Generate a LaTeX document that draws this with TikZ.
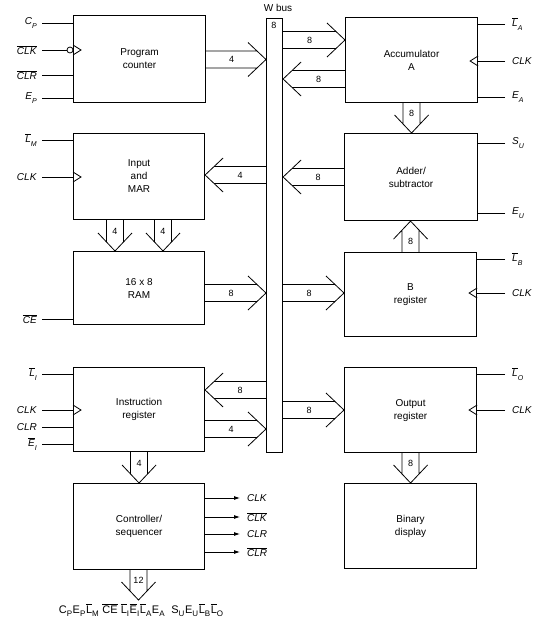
\documentclass[tikz,border=0pt]{standalone}
\usepackage{fontspec}
\setmainfont{Liberation Sans}
\usetikzlibrary{calc,arrows.meta}
\newcommand\obar[1]{\ensuremath{\overline{\mbox{#1}}}}
\newcommand\sg[2]{\textit{#1}\raisebox{-0.7ex}{\fontsize{7}{7}\selectfont\textit{#2}}}
\newcommand\bsg[2]{\obar{\textit{#1}}\raisebox{-0.7ex}{\fontsize{7}{7}\selectfont\textit{#2}}}
\newcommand\usg[2]{#1\raisebox{-0.5ex}{\fontsize{8}{8}\selectfont #2}\hspace{0.6pt}}
\newcommand\ubsg[2]{\obar{#1}\raisebox{-0.5ex}{\fontsize{8}{8}\selectfont #2}\hspace{0.6pt}}
\newcommand\harrR[3]{\draw[busline] let \p1=#1, \p2=#2 in
  (\x1,\y2+8.5pt) -- (\x2-9pt,\y2+8.5pt)
  (\x1,\y2-8.5pt) -- (\x2-9pt,\y2-8.5pt)
  (\x2-18pt,\y2+17pt) -- (\x2,\y2) -- (\x2-18pt,\y2-17pt)
  ({0.5*\x1+0.5*(\x2-9pt)},\y2) node[lbl]{#3};}
\newcommand\harrL[3]{\draw[busline] let \p1=#1, \p2=#2 in
  (\x1,\y2+8.5pt) -- (\x2+9pt,\y2+8.5pt)
  (\x1,\y2-8.5pt) -- (\x2+9pt,\y2-8.5pt)
  (\x2+18pt,\y2+17pt) -- (\x2,\y2) -- (\x2+18pt,\y2-17pt)
  ({0.5*\x1+0.5*(\x2+9pt)},\y2) node[lbl]{#3};}
\newcommand\varrD[3]{\draw[busline] let \p1=#1, \p2=#2 in
  (\x2-8.5pt,\y1) -- (\x2-8.5pt,\y2+9pt)
  (\x2+8.5pt,\y1) -- (\x2+8.5pt,\y2+9pt)
  (\x2-17pt,\y2+18pt) -- (\x2,\y2) -- (\x2+17pt,\y2+18pt)
  (\x2,{0.5*\y1+0.5*(\y2+9pt)}) node[lbl]{#3};}
\newcommand\varrU[3]{\draw[busline] let \p1=#1, \p2=#2 in
  (\x2-8.5pt,\y1) -- (\x2-8.5pt,\y2-9pt)
  (\x2+8.5pt,\y1) -- (\x2+8.5pt,\y2-9pt)
  (\x2-17pt,\y2-18pt) -- (\x2,\y2) -- (\x2+17pt,\y2-18pt)
  (\x2,{0.5*\y1+0.5*(\y2-9pt)}) node[lbl]{#3};}
\newcommand\lsig[4]{\node[lsig] (#1) at (42,#2) {#3}; \draw[sig] (#1.east) -- (#4.west |- #1.east);}
\newcommand\rsig[4]{\node[rsig] (#1) at (505,#2) {#3}; \draw[sig] (#1.west) -- (#4.east |- #1.west);}
\newcommand\lclk[2]{\draw[sig] (#1.west |- 0,#2) ++(0,-5) -- ++(8,5) -- ++(-8,5);}
\newcommand\rclk[2]{\draw[sig] (#1.east |- 0,#2) ++(0,-5) -- ++(-8,5) -- ++(8,5);}
\begin{document}
\begin{tikzpicture}[x=1pt,y=-1pt,
  box/.style={draw,line width=1.1pt,anchor=north west,align=center,
    font=\fontsize{10}{13}\selectfont,inner sep=0pt},
  busline/.style={line width=0.8pt},
  lbl/.style={font=\fontsize{9}{10}\selectfont,inner sep=1pt},
  sig/.style={line width=0.8pt},
  lsig/.style={font=\fontsize{10}{12}\selectfont,anchor=east,inner ysep=0pt,inner xsep=5pt},
  rsig/.style={font=\fontsize{10}{12}\selectfont,anchor=west,inner ysep=0pt,inner xsep=7pt},
  osig/.style={font=\fontsize{10}{12}\selectfont,anchor=west,inner ysep=0pt,inner xsep=7pt},
]
\useasboundingbox (0,0) rectangle (541,624);
\fill[white] (0,0) rectangle (541,624);

% boxes
\node[box,minimum width=132pt,minimum height=87pt] (pc) at (73,15) {Program\\counter};
\node[box,minimum width=131pt,minimum height=86pt] (mar) at (73,133) {Input\\and\\MAR};
\node[box,minimum width=131pt,minimum height=73pt] (ram) at (73,251) {16 x 8\\RAM};
\node[box,minimum width=131pt,minimum height=84pt] (ir) at (73,367) {Instruction\\register};
\node[box,minimum width=131pt,minimum height=86pt] (ctl) at (73,483) {Controller/\\sequencer};
\node[box,minimum width=132pt,minimum height=85pt] (acc) at (345,17) {Accumulator\\A};
\node[box,minimum width=133pt,minimum height=87pt] (add) at (344,133) {Adder/\\subtractor};
\node[box,minimum width=132pt,minimum height=84pt] (breg) at (344,252) {B\\register};
\node[box,minimum width=132pt,minimum height=85pt] (outr) at (344,367) {Output\\register};
\node[box,minimum width=132pt,minimum height=85pt] (disp) at (344,483) {Binary\\display};

% W bus
\node[draw,line width=1.1pt,anchor=north west,minimum width=16pt,minimum height=434pt,inner sep=0pt] (bus) at (266,18) {};
\node[font=\fontsize{10}{12}\selectfont,inner sep=0pt] (wbus) at (278,8) {W bus};
\node[lbl] (bus8) at (274,25) {8};

% bus arrows
\harrR{(pc.east)}{(bus.west |- 0,59.5)}{4}
\harrR{(bus.east)}{(acc.west |- 0,40)}{8}
\harrL{(acc.west)}{(bus.east |- 0,79)}{8}
\harrL{(add.west)}{(bus.east |- 0,177)}{8}
\harrL{(bus.west)}{(mar.east |- 0,175)}{4}
\harrR{(ram.east)}{(bus.west |- 0,293)}{8}
\harrR{(bus.east)}{(breg.west |- 0,293)}{8}
\harrL{(bus.west)}{(ir.east |- 0,390)}{8}
\harrR{(ir.east)}{(bus.west |- 0,429)}{4}
\harrR{(bus.east)}{(outr.west |- 0,410)}{8}

% vertical arrows
\varrD{(acc.south)}{(add.north -| acc.south)}{8}
\varrU{(breg.north)}{(add.south -| breg.north)}{8}
\varrD{(mar.south -| 115,0)}{(ram.north -| 115,0)}{4}
\varrD{(mar.south -| 163,0)}{(ram.north -| 163,0)}{4}
\varrD{(ir.south)}{(ctl.north -| ir.south)}{4}
\varrD{(outr.south)}{(disp.north -| outr.south)}{8}
\coordinate (ctlout) at (138.5,600);
\varrD{(ctl.south)}{(ctlout)}{12}
\node[font=\fontsize{11}{12}\selectfont,inner sep=0pt] (ctlsig) at (141,610)
 {\usg{C}{P}\usg{E}{P}\ubsg{L}{M}\ \obar{CE}\ \ubsg{L}{I}\ubsg{E}{I}\ubsg{L}{A}\usg{E}{A}\ \ \usg{S}{U}\usg{E}{U}\ubsg{L}{B}\ubsg{L}{O}};

% program counter signals
\lsig{cp}{23}{\sg{C}{P}}{pc}
\node[lsig] (pcclk) at (42,50) {\obar{\textit{CLK}}};
\node[draw,circle,line width=0.8pt,inner sep=0pt,minimum size=6pt] (bub) at (70,50) {};
\draw[sig] (pcclk.east) -- (bub.west);
\lclk{pc}{50}
\lsig{pcclr}{75}{\obar{\textit{CLR}}}{pc}
\lsig{ep}{98}{\sg{E}{P}}{pc}

% MAR
\lsig{lm}{140}{\bsg{L}{M}}{mar}
\lsig{marclk}{177}{\textit{CLK}}{mar}
\lclk{mar}{177}
% RAM
\lsig{ce}{319}{\obar{\textit{CE}}}{ram}
% IR
\lsig{li}{374}{\bsg{L}{I}}{ir}
\lsig{irclk}{410}{\textit{CLK}}{ir}
\lclk{ir}{410}
\lsig{irclr}{427}{\textit{CLR}}{ir}
\lsig{ei}{444}{\bsg{E}{I}}{ir}

% accumulator
\rsig{la}{24}{\bsg{L}{A}}{acc}
\rsig{aclk}{61}{\textit{CLK}}{acc}
\rclk{acc}{61}
\rsig{ea}{97}{\sg{E}{A}}{acc}
% adder
\rsig{su}{143}{\sg{S}{U}}{add}
\rsig{eu}{213}{\sg{E}{U}}{add}
% B
\rsig{lb}{259}{\bsg{L}{B}}{breg}
\rsig{bclk}{293}{\textit{CLK}}{breg}
\rclk{breg}{293}
% output
\rsig{lo}{374}{\bsg{L}{O}}{outr}
\rsig{oclk}{410}{\textit{CLK}}{outr}
\rclk{outr}{410}

% controller outputs
\node[osig] (c1) at (240,498) {\textit{CLK}};
\node[osig] (c2) at (240,517) {\obar{\textit{CLK}}};
\node[osig] (c3) at (240,534) {\textit{CLR}};
\node[osig] (c4) at (240,552) {\obar{\textit{CLR}}};
\foreach \c in {c1,c2,c3,c4}
  \draw[sig,-{Latex[length=6pt,width=4pt]}] (ctl.east |- \c.west) -- (\c.west);
\end{tikzpicture}
\end{document}
